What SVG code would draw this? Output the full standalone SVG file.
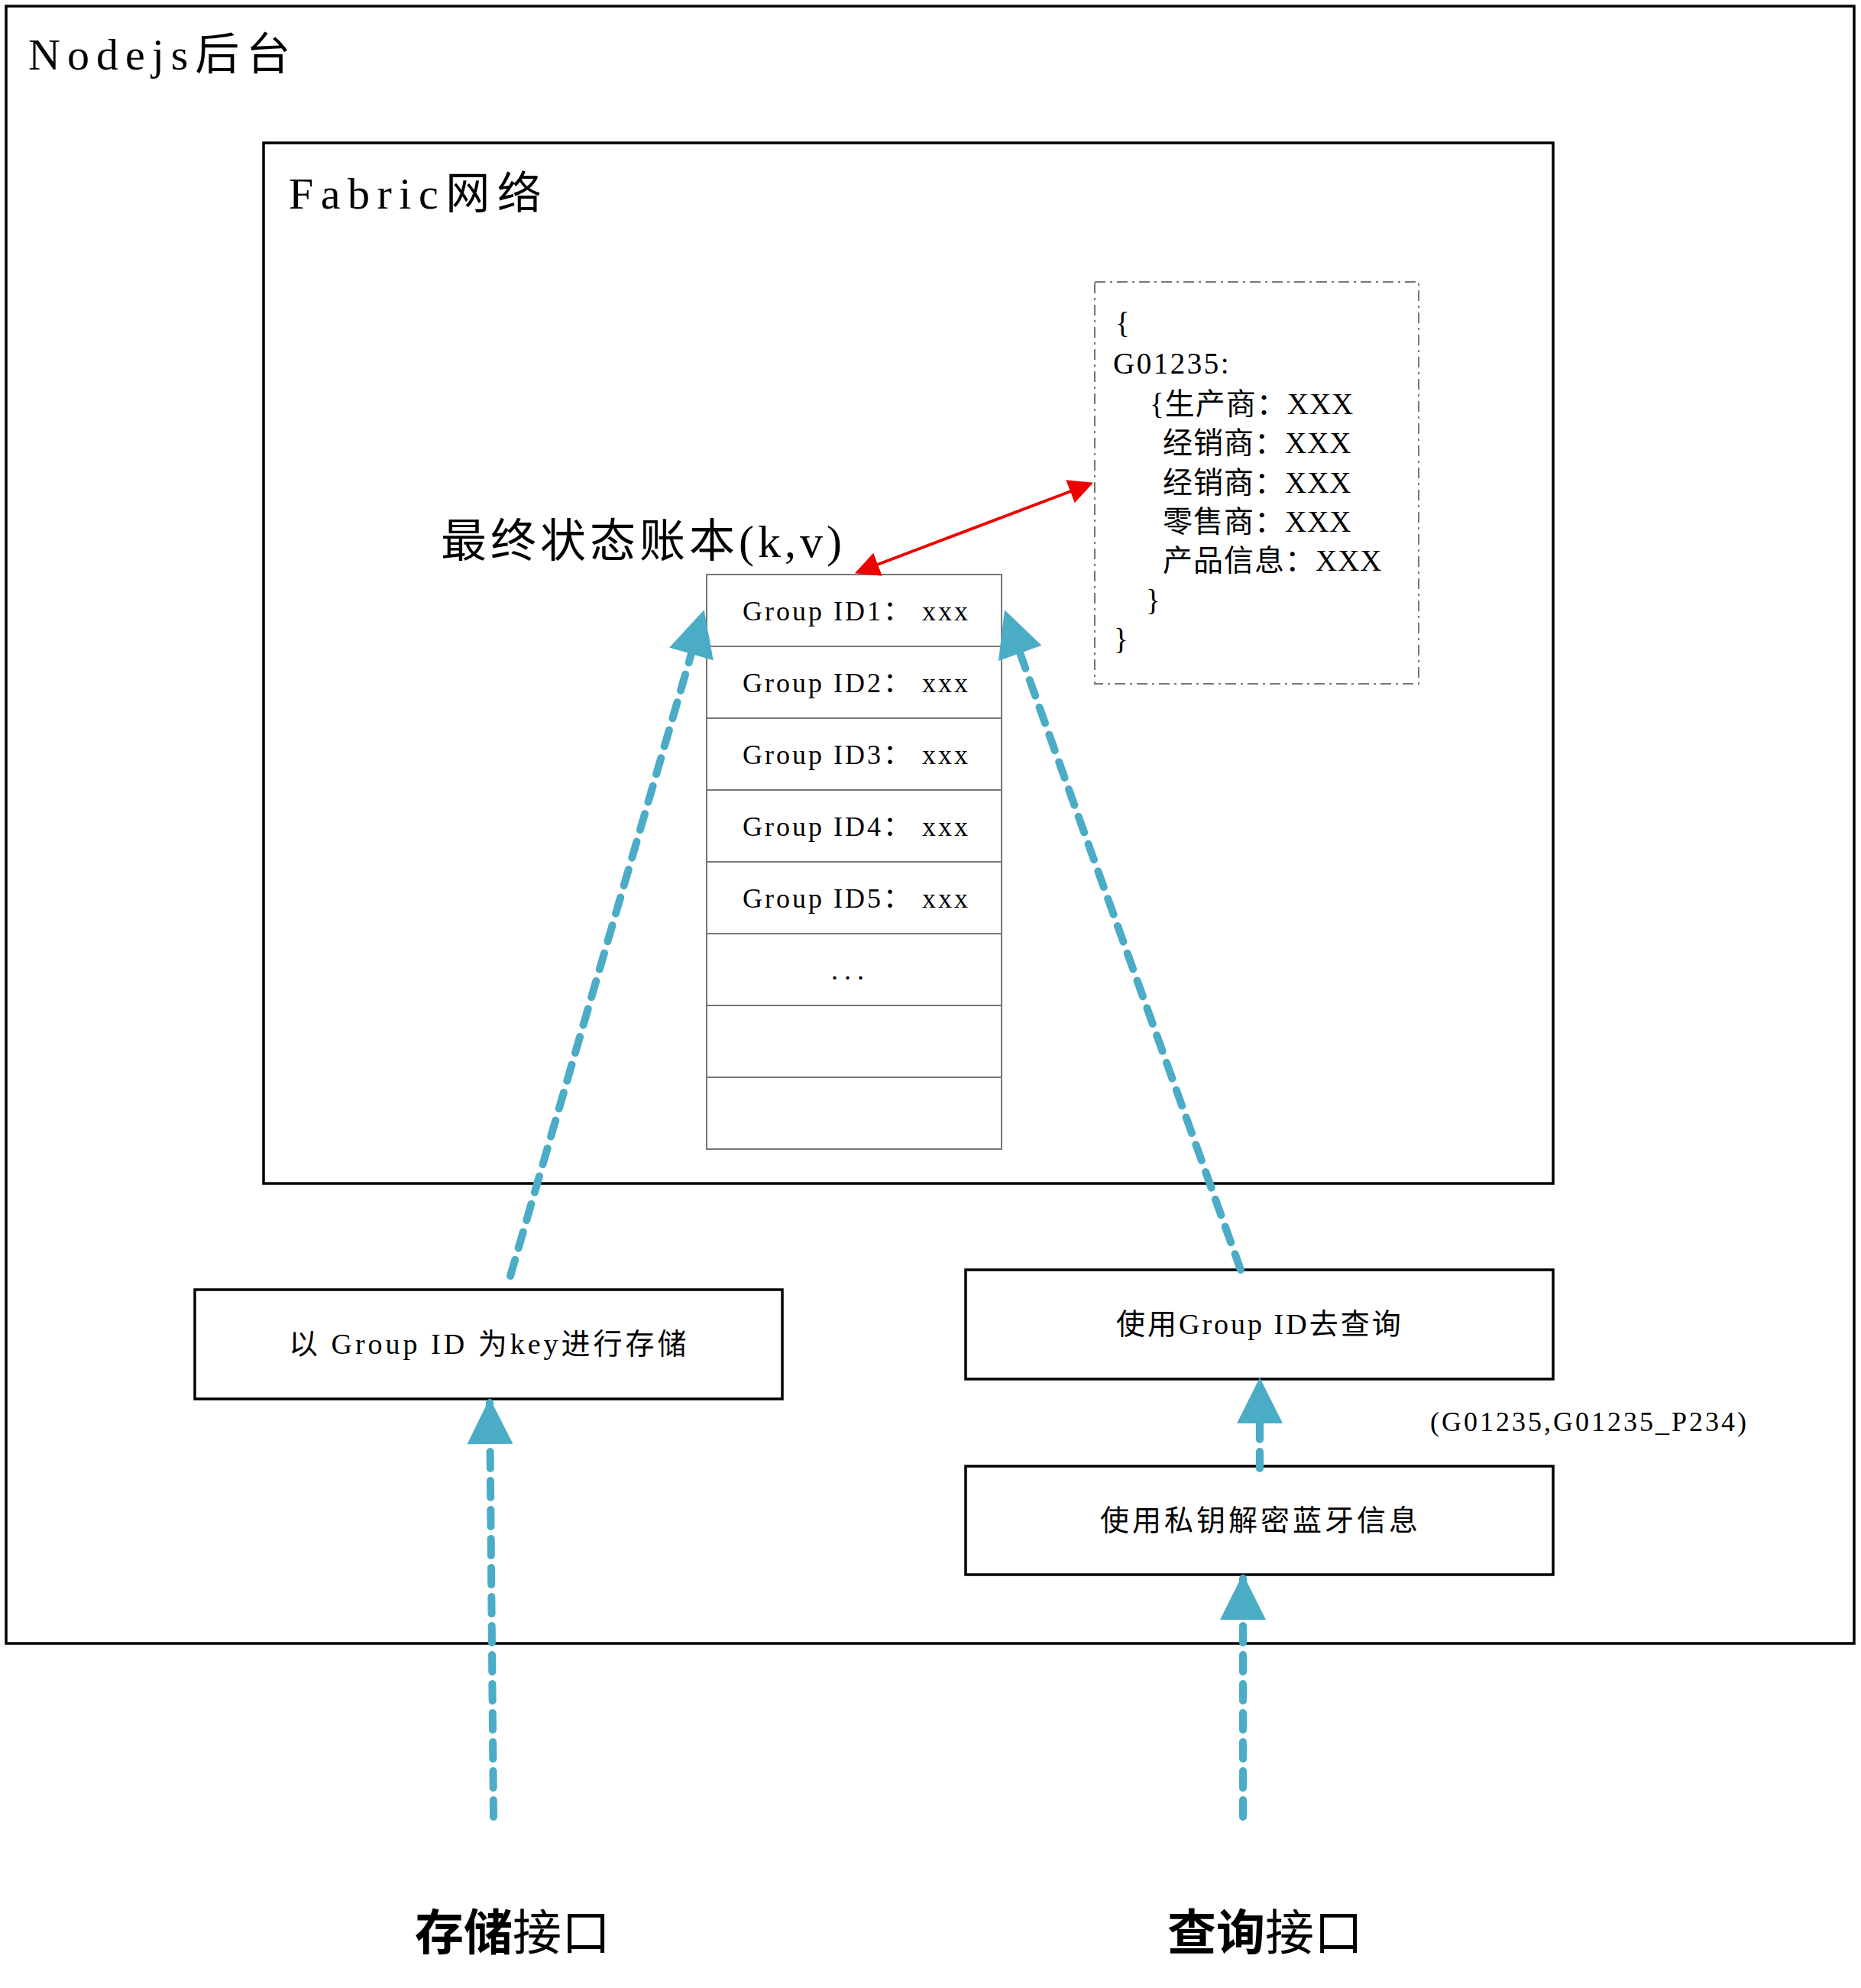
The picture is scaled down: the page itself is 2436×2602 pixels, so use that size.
<svg xmlns="http://www.w3.org/2000/svg" width="2436" height="2602" viewBox="0 0 2436 2602">
<style>
.t{font-family:"Liberation Serif","Noto Sans CJK SC",serif;fill:#000}
.box{fill:none;stroke:#000;stroke-width:3.5}
.row{fill:#fff;stroke:#777;stroke-width:2}
.blue{fill:none;stroke:#4BACC6;stroke-width:10;stroke-dasharray:22,16;stroke-linecap:round}
</style>
<defs>
<marker id="ba" viewBox="0 0 10 10" refX="9" refY="5" markerWidth="7" markerHeight="6" markerUnits="strokeWidth" orient="auto"><path d="M0,0L10,5L0,10z" fill="#4BACC6"/></marker>
<marker id="ra" viewBox="0 0 10 10" refX="9" refY="5" markerWidth="10" markerHeight="8" markerUnits="strokeWidth" orient="auto-start-reverse"><path d="M0,0L10,5L0,10z" fill="#E00"/></marker>
</defs>
<rect width="2436" height="2602" fill="#fff"/>
<g id="nodejs"><rect class="box" x="8" y="8" width="2419" height="2143"/><text class="t" x="37" y="91" font-size="58" letter-spacing="9">Nodejs后台</text></g>
<g id="fabric"><rect class="box" x="345" y="187" width="1688" height="1362"/><text class="t" x="378" y="273" font-size="58" letter-spacing="9.5">Fabric网络</text></g>
<g id="json"><rect x="1433" y="369" width="424" height="526" fill="none" stroke="#777" stroke-width="2" stroke-dasharray="14,6,3,6"/>
<g class="t" font-size="39" letter-spacing="1">
<text x="1460" y="436">{</text>
<text x="1457" y="489" letter-spacing="2.5">G01235:</text>
<text x="1505" y="542">{生产商：XXX</text>
<text x="1522" y="593">经销商：XXX</text>
<text x="1522" y="645">经销商：XXX</text>
<text x="1522" y="696">零售商：XXX</text>
<text x="1522" y="747">产品信息：XXX</text>
<text x="1500" y="799">}</text>
<text x="1458" y="850">}</text></g></g>
<g id="ledger"><text class="t" x="577" y="729" font-size="60" letter-spacing="5">最终状态账本(k,v)</text>
<rect class="row" x="925" y="752" width="386" height="94"/>
<rect class="row" x="925" y="846" width="386" height="94"/>
<rect class="row" x="925" y="940" width="386" height="94"/>
<rect class="row" x="925" y="1034" width="386" height="94"/>
<rect class="row" x="925" y="1128" width="386" height="94"/>
<rect class="row" x="925" y="1222" width="386" height="94"/>
<rect class="row" x="925" y="1316" width="386" height="94"/>
<rect class="row" x="925" y="1410" width="386" height="94"/>
<g class="t" font-size="36" letter-spacing="3">
<text x="972" y="812">Group ID1： xxx</text>
<text x="972" y="906">Group ID2： xxx</text>
<text x="972" y="1000">Group ID3： xxx</text>
<text x="972" y="1094">Group ID4： xxx</text>
<text x="972" y="1188">Group ID5： xxx</text>
<text x="1088" y="1282" letter-spacing="8">...</text></g></g>
<g id="store"><rect class="box" x="255" y="1688" width="769" height="143"/><text class="t" x="378" y="1772" font-size="38" letter-spacing="4">以 Group ID 为key进行存储</text></g>
<g id="query"><rect class="box" x="1264" y="1662" width="769" height="143"/><text class="t" x="1461" y="1746" font-size="38" letter-spacing="3">使用Group ID去查询</text></g>
<g id="decrypt"><rect class="box" x="1264" y="1919" width="769" height="142"/><text class="t" x="1440" y="2003" font-size="38" letter-spacing="4">使用私钥解密蓝牙信息</text></g>
<text class="t" x="1872" y="1873" font-size="36" letter-spacing="3">(G01235,G01235_P234)</text>
<text class="t" x="543" y="2552" font-size="64"><tspan font-weight="bold">存储</tspan>接口</text>
<text class="t" x="1528" y="2552" font-size="64"><tspan font-weight="bold">查询</tspan>接口</text>
<g id="connectors">
<line x1="1428" y1="633" x2="1122" y2="749" stroke="#E00" stroke-width="4" marker-start="url(#ra)" marker-end="url(#ra)"/>
<line class="blue" x1="668" y1="1670" x2="920" y2="804" marker-end="url(#ba)"/>
<line class="blue" x1="1624" y1="1662" x2="1317" y2="804" marker-end="url(#ba)"/>
<line class="blue" x1="646" y1="2378" x2="641" y2="1836" marker-end="url(#ba)"/>
<line class="blue" x1="1649" y1="1922" x2="1649" y2="1809" marker-end="url(#ba)"/>
<line class="blue" x1="1627" y1="2378" x2="1627" y2="2066" marker-end="url(#ba)"/>
</g>
</svg>
